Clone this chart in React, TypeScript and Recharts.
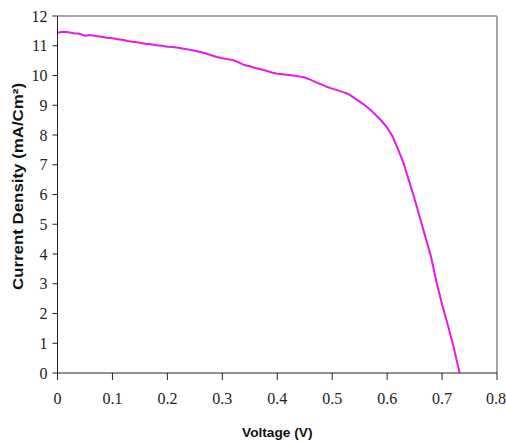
// Curva J-V de una celda solar: densidad de corriente vs voltaje.
import { LineChart, Line, XAxis, YAxis, ReferenceLine } from 'recharts'

// Voltaje (V) y densidad de corriente (mA/cm²).
const VOLTAGE = [
  0.0, 0.01, 0.02, 0.03, 0.04, 0.05, 0.06, 0.07, 0.08, 0.09,
  0.1, 0.11, 0.12, 0.13, 0.14, 0.15, 0.16, 0.17, 0.18, 0.19,
  0.2, 0.21, 0.22, 0.23, 0.24, 0.25, 0.26, 0.27, 0.28, 0.29,
  0.3, 0.31, 0.32, 0.33, 0.34, 0.35, 0.36, 0.37, 0.38, 0.39,
  0.4, 0.41, 0.42, 0.43, 0.44, 0.45, 0.46, 0.47, 0.48, 0.49,
  0.5, 0.51, 0.52, 0.53, 0.54, 0.55, 0.56, 0.57, 0.58, 0.59,
  0.6, 0.61, 0.62, 0.63, 0.64, 0.65, 0.66, 0.67, 0.68, 0.69,
  0.7, 0.71, 0.72, 0.732,
]
const CURRENT_DENSITY = [
  11.44, 11.47, 11.45, 11.42, 11.4, 11.34, 11.36, 11.33, 11.3, 11.27,
  11.25, 11.22, 11.19, 11.15, 11.13, 11.1, 11.07, 11.05, 11.02, 11.0,
  10.97, 10.96, 10.93, 10.9, 10.87, 10.83, 10.79, 10.74, 10.68, 10.62,
  10.58, 10.55, 10.51, 10.44, 10.35, 10.31, 10.25, 10.21, 10.16, 10.1,
  10.06, 10.04, 10.02, 10.0, 9.97, 9.93, 9.86, 9.78, 9.7, 9.62,
  9.56, 9.5, 9.44, 9.37, 9.25, 9.12, 8.99, 8.84, 8.66, 8.47,
  8.25, 7.95, 7.52, 7.05, 6.45, 5.85, 5.2, 4.55, 3.9, 3.05,
  2.3, 1.65, 0.95, 0.0,
]
const X_TICKS = [0, 0.1, 0.2, 0.3, 0.4, 0.5, 0.6, 0.7, 0.8]
const Y_TICKS = [0, 1, 2, 3, 4, 5, 6, 7, 8, 9, 10, 11, 12]

const data = VOLTAGE.map((v, i) => ({ v, j: CURRENT_DENSITY[i] }))

const tickStyle = { fontFamily: '"Liberation Serif", "Times New Roman", serif', fontSize: 16, fill: '#222' }
const titleFont = '"Liberation Sans", Arial, sans-serif'

function XTitle(props: any) {
  const vb = props.viewBox
  return (
    <text
      x={vb.x + vb.width / 2}
      y={vb.y + vb.height + 24}
      textAnchor="middle"
      fontFamily={titleFont}
      fontWeight="bold"
      fontSize={13.7}
      fill="#111"
    >
      Voltage (V)
    </text>
  )
}

function YTitle(props: any) {
  const vb = props.viewBox
  const cx = 18
  const cy = vb.y + vb.height / 2 - 8
  return (
    <text
      x={cx}
      y={cy}
      transform={`rotate(-90, ${cx}, ${cy})`}
      textAnchor="middle"
      dominantBaseline="central"
      fontFamily={titleFont}
      fontWeight="bold"
      fontSize={14}
      fill="#111"
      textLength={207}
      lengthAdjust="spacingAndGlyphs"
    >
      Current Density (mA/Cm²)
    </text>
  )
}

export default function App() {
  return (
    <div style={{ position: 'absolute', left: 0, top: 0, background: '#fff' }}>
      <LineChart width={506} height={444} data={data} margin={{ top: 16, right: 9, left: 0, bottom: 31 }}>
        <XAxis
          dataKey="v"
          type="number"
          domain={[0, 0.8]}
          ticks={X_TICKS}
          tickFormatter={(t: number) => String(t)}
          height={40}
          tickSize={7}
          tickMargin={13}
          stroke="#222"
          tick={tickStyle}
          label={{ content: XTitle }}
        />
        <YAxis
          type="number"
          domain={[0, 12]}
          ticks={Y_TICKS}
          width={57.5}
          tickSize={5}
          tickMargin={5}
          stroke="#222"
          tick={tickStyle}
          label={{ content: YTitle }}
        />
        <ReferenceLine y={12} stroke="#888" strokeWidth={1.5} />
        <ReferenceLine x={0.8} stroke="#888" strokeWidth={1.5} />
        <Line
          type="linear"
          dataKey="j"
          stroke="#e31be3"
          strokeWidth={2}
          dot={false}
          isAnimationActive={false}
        />
      </LineChart>
    </div>
  )
}
